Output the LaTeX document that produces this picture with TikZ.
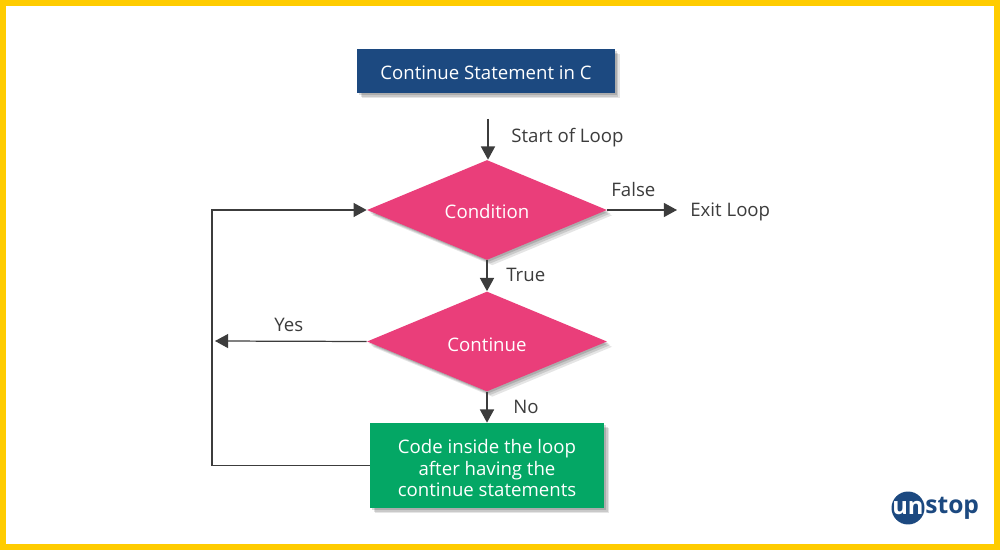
\documentclass[tikz,border=0pt]{standalone}
\usepackage{fontspec}
\setmainfont{Open Sans}
\usetikzlibrary{arrows.meta,shapes.geometric,shadows}

\definecolor{framegold}{HTML}{FFCC00}
\definecolor{navyblue}{HTML}{1C4980}
\definecolor{hotpink}{HTML}{EA3E7A}
\definecolor{leafgreen}{HTML}{04A765}
\definecolor{linegray}{HTML}{3C3C3C}

\begin{document}
\begin{tikzpicture}[
    x=0.02cm, y=-0.02cm,
    softshadow/.style={
        drop shadow={shadow xshift=1pt, shadow yshift=-1pt, opacity=0.14, fill=black},
        drop shadow={shadow xshift=2pt, shadow yshift=-2pt, opacity=0.12, fill=black},
        drop shadow={shadow xshift=3pt, shadow yshift=-3pt, opacity=0.10, fill=black}},
    titlebox/.style={rectangle, fill=navyblue, text=white, minimum width=5.16cm, minimum height=0.88cm, softshadow},
    decision/.style={diamond, fill=hotpink, text=white, minimum width=4.8cm, minimum height=2cm, inner sep=0pt, aspect=2.4, softshadow},
    codebox/.style={rectangle, fill=leafgreen, text=white, minimum width=4.68cm, minimum height=1.7cm, align=center, font=\fontsize{10.6}{12.2}\selectfont, softshadow},
    label/.style={text=linegray, font=\fontsize{10.6}{12}\selectfont, inner sep=0pt},
    arrow/.style={-{Triangle[length=7.5pt, width=8pt]}, line width=0.7pt, draw=linegray}
]

% Frame
\fill[framegold] (0,0) rectangle (1000,550);
\fill[white] (6,6) rectangle (994,544);

% Boxes and decisions
\node[titlebox, font=\fontsize{10.6}{12}\selectfont] at (486,71) (title) {\rule{0pt}{9.5pt}Continue Statement in C};
\node[decision, font=\fontsize{10.6}{12}\selectfont] at (487,210) (condition) {\rule{0pt}{9.5pt}Condition};
\node[decision, font=\fontsize{10.6}{12}\selectfont] at (487,341.5) (continue) {\rule{0pt}{11.5pt}Continue};
\node[codebox] at (487,465.5) (code) {\rule{0pt}{11pt}Code inside the loop\\after having the\\continue statements};

% Labels
\node[label, anchor=west] at (511,138) (startlabel) {Start of Loop};
\node[label, anchor=west] at (611,190) (falselabel) {False};
\node[label, anchor=west] at (690,212) (exit) {Exit Loop};
\node[label, anchor=west] at (506,275) (truelabel) {True};
\node[label, anchor=west] at (274,325) (yeslabel) {Yes};
\node[label, anchor=west] at (513,407) (nolabel) {No};

% Free ends
\coordinate (start) at (488,119);
\coordinate (exitend) at (677,210);
\coordinate (back) at (215,341);
\coordinate (cornerhigh) at (212,210);

% Arrows
\draw[arrow] (start) -- (condition.north -| start);
\draw[arrow] (condition.east) -- (exitend);
\draw[arrow] (condition.south) -- (continue.north);
\draw[arrow] (continue.south) -- (code.north);
\draw[arrow] (continue.west) -- (back);
\draw[arrow] (code.west) -| (cornerhigh) -- (condition.west);

% Logo
\node[circle, fill=navyblue, minimum size=0.66cm, inner sep=0pt] at (908,508) (logo) {};
\node[anchor=west, inner sep=0pt, text=white, font=\fontsize{13.5}{14}\bfseries\selectfont] at (892,508) (logoun) {un};
\node[anchor=west, inner sep=0pt, text=navyblue, font=\fontsize{14}{14}\bfseries\selectfont] at (925,508) (logostop) {stop};

\end{tikzpicture}
\end{document}
